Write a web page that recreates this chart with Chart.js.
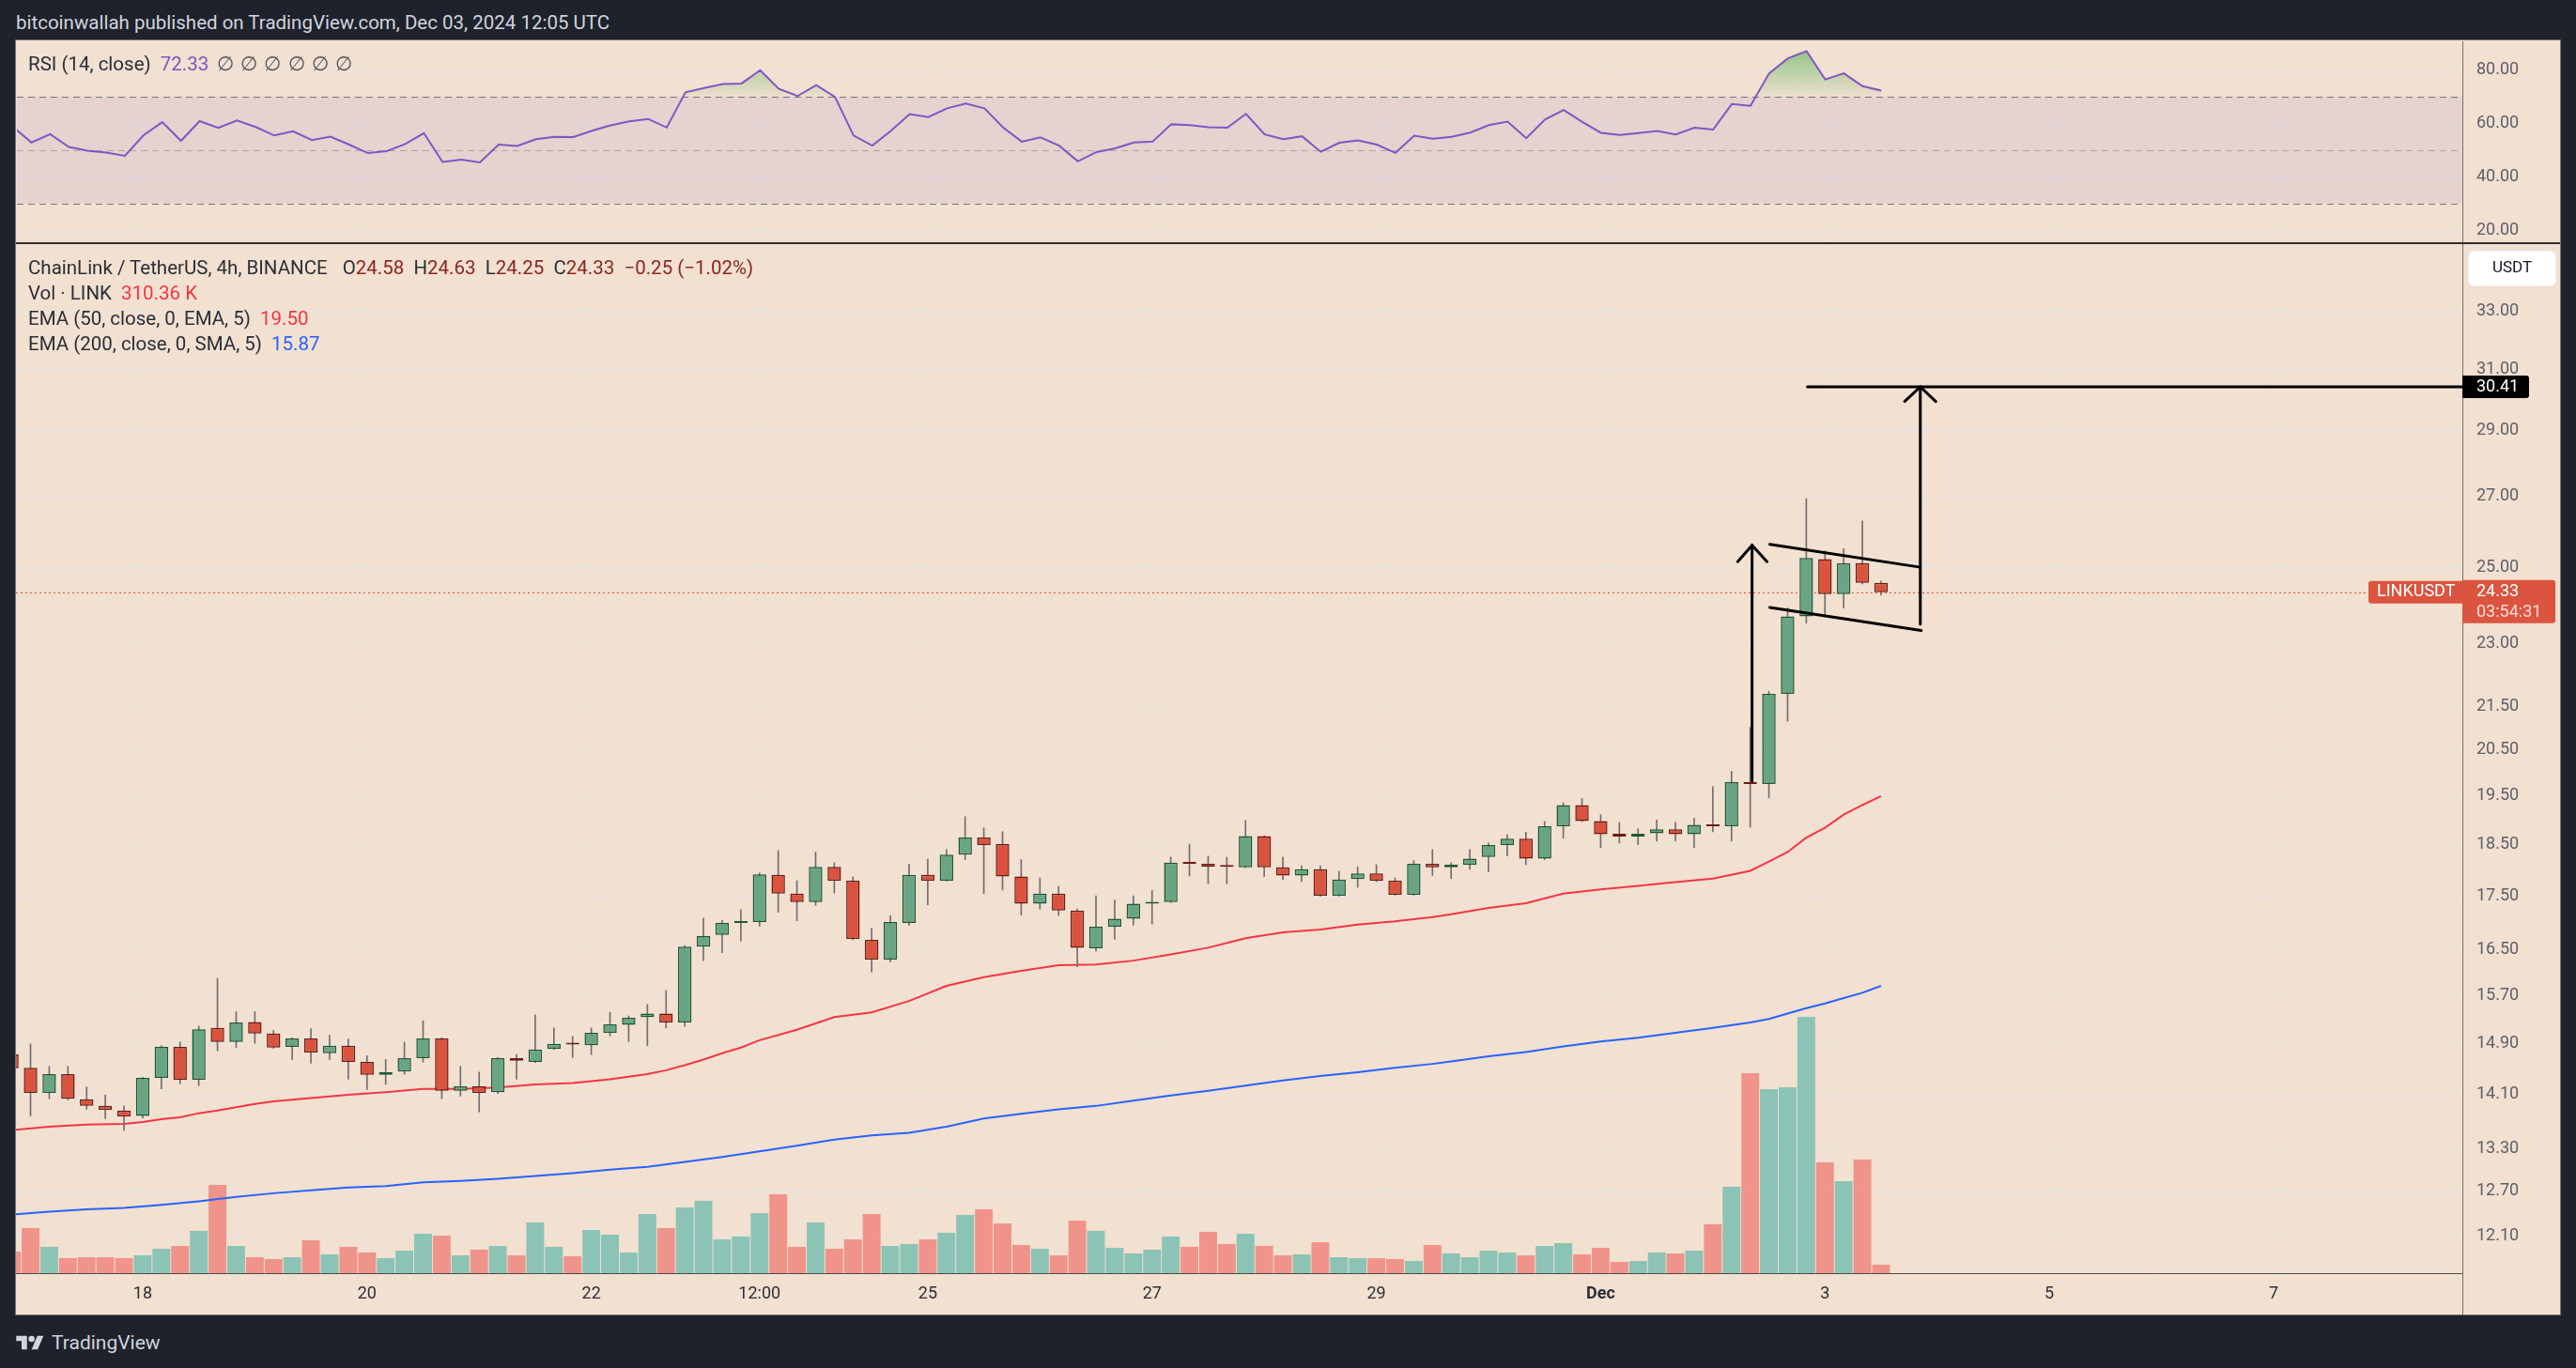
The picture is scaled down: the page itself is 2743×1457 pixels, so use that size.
<!DOCTYPE html>
<html>
<head>
<meta charset="utf-8">
<title>LINKUSDT 4h</title>
<script src="https://cdn.jsdelivr.net/npm/chart.js@4.4.1/dist/chart.umd.min.js"></script>
<style>
  html, body { margin: 0; padding: 0; }
  body { width: 2743px; height: 1457px; background: #1e222d; position: relative; overflow: hidden;
         font-family: Roboto, "Liberation Sans", sans-serif; }
  #header { position: absolute; left: 17px; top: 12px; font-size: 20.5px; color: #d1d4dc; white-space: nowrap; }
  #frame { position: absolute; left: 16px; top: 42px; width: 2709px; height: 1357px; background: #f2e0d0;
           border: 1px solid #77716c; }
  canvas { position: absolute; left: 17px; }
  #rsiChart { top: 43px; }
  #mainChart { top: 259px; }
  #divider { position: absolute; left: 17px; top: 258px; width: 2709px; height: 2px; background: #2e2e2e; }
  #axisFoot { position: absolute; left: 2622px; top: 1356px; width: 1px; height: 44px; background: #6f6f6f; }
  .legend { position: absolute; left: 30px; font-size: 20.5px; color: #2a2e39; white-space: nowrap; }
  .legend div { height: 27px; line-height: 27px; }
  .gap { display: inline-block; width: 16px; }
  #logo { position: absolute; left: 16px; top: 1418px; display: flex; align-items: center; color: #d1d4dc; font-size: 21px; }
  #logo svg { margin-right: 7px; }
</style>
</head>
<body>
<div id="header">bitcoinwallah published on TradingView.com, Dec 03, 2024 12:05 UTC</div>
<div id="frame"></div>
<canvas id="rsiChart" width="2709" height="216"></canvas>
<canvas id="mainChart" width="2709" height="1141"></canvas>
<div id="divider"></div>
<div id="axisFoot"></div>
<div class="legend" id="rsiLegend" style="top:56px"></div>
<div class="legend" id="mainLegend" style="top:272px"></div>
<div id="logo">
  <svg width="32" height="18" viewBox="0 0 36 22"><path d="M14 20H7V9H0V2h14v18zM28 20h-8l7.5-18h8L28 20z" fill="#d1d4dc"/><circle cx="20" cy="6" r="4" fill="#d1d4dc"/></svg>
  <span>TradingView</span>
</div>
<script>
// 4h candles, index 0 = Nov 17 00:00 UTC; first candle is one bar earlier
const candleStart = -1;

const open = [14.73,14.52,14.13,14.42,14.03,13.93,13.86,13.78,14.36,14.85,
  14.33,15.16,14.93,15.26,15.07,14.85,14.99,14.75,14.87,14.61,
  14.41,14.46,14.67,14.99,14.16,14.23,14.14,14.67,14.61,14.82,
  14.90,14.88,15.08,15.21,15.34,15.40,15.25,16.56,16.77,16.99,
  17.01,17.90,17.54,17.38,18.06,17.79,16.68,16.33,16.99,17.90,
  17.79,18.30,18.64,18.51,17.87,17.35,17.54,17.22,16.53,16.92,
  17.07,17.35,17.38,18.14,18.12,18.07,18.05,18.67,18.05,17.89,
  18.01,17.50,17.82,17.93,17.79,17.52,18.12,18.05,18.10,18.25,
  18.49,18.62,18.22,18.87,19.31,18.98,18.72,18.66,18.73,18.81,
  18.71,18.90,18.87,19.80,19.76,21.79,23.70,25.22,24.28,25.11,
  24.58];
const high = [14.80,14.90,14.54,14.54,14.22,14.10,13.93,14.37,14.87,14.93,
  15.19,16.00,15.43,15.43,15.12,15.00,15.15,15.04,14.98,14.71,
  14.65,14.93,15.28,15.00,14.54,14.45,14.68,14.73,15.38,15.16,
  15.02,15.16,15.42,15.36,15.55,15.79,16.58,17.08,17.04,17.24,
  17.94,18.38,17.79,18.35,18.14,17.86,16.89,17.13,18.11,18.21,
  18.40,19.07,18.84,18.76,18.20,17.84,17.68,17.25,17.50,17.42,
  17.50,17.60,18.25,18.51,18.27,18.25,18.99,18.68,18.25,18.08,
  18.08,17.97,18.06,18.10,17.84,18.18,18.40,18.14,18.40,18.53,
  18.70,18.75,18.97,19.36,19.45,19.11,18.95,18.82,19.00,18.95,
  19.04,19.70,20.03,21.01,21.85,23.92,26.93,25.45,25.51,26.29,
  24.63];
const low = [14.45,13.78,14.04,14.02,13.88,13.74,13.56,13.75,14.19,14.27,
  14.24,14.79,14.84,14.91,14.83,14.65,14.59,14.65,14.34,14.18,
  14.26,14.42,14.61,14.04,14.08,13.84,14.12,14.34,14.60,14.81,
  14.68,14.73,15.03,14.94,14.87,15.16,15.19,16.31,16.45,16.66,
  16.93,17.19,17.03,17.32,17.55,16.68,16.11,16.29,16.95,17.33,
  17.78,18.20,17.54,17.61,17.14,17.25,17.13,16.20,16.48,16.69,
  16.95,16.97,17.37,17.88,17.73,17.73,18.04,17.87,17.81,17.77,
  17.49,17.49,17.66,17.77,17.51,17.51,17.89,17.83,18.01,17.96,
  18.27,18.10,18.20,18.63,18.97,18.44,18.53,18.50,18.57,18.57,
  18.44,18.76,18.57,18.85,19.46,21.15,23.53,23.70,23.92,24.55,
  24.25];
const close = [14.51,14.13,14.42,14.04,13.93,13.87,13.77,14.36,14.85,14.33,
  15.14,14.93,15.25,15.07,14.84,14.99,14.76,14.87,14.61,14.41,
  14.45,14.67,14.99,14.16,14.23,14.13,14.67,14.63,14.81,14.90,
  14.89,15.08,15.22,15.33,15.40,15.25,16.56,16.75,16.99,17.02,
  17.91,17.54,17.38,18.06,17.79,16.70,16.33,17.01,17.90,17.79,
  18.30,18.64,18.49,17.87,17.35,17.54,17.22,16.54,16.92,17.07,
  17.35,17.38,18.14,18.12,18.06,18.06,18.67,18.05,17.89,18.01,
  17.50,17.81,17.93,17.79,17.52,18.12,18.05,18.10,18.22,18.49,
  18.62,18.22,18.87,19.31,18.98,18.71,18.66,18.72,18.81,18.71,
  18.90,18.87,19.80,19.76,21.79,23.70,25.25,24.28,25.11,24.58,
  24.33];
// volume in thousands of LINK
const volume = [794,1656,966,552,587,587,552,656,897,1001,
  1553,3243,1001,587,518,587,1208,690,966,759,
  552,828,1449,1380,656,863,1001,656,1863,966,
  621,1587,1415,759,2174,1656,2415,2657,1242,1346,
  2208,2898,966,1863,897,1242,2174,1001,1070,1242,
  1484,2139,2346,1829,1035,897,656,1932,1553,932,
  725,863,1346,966,1518,1070,1449,1001,656,690,
  1139,587,552,552,518,449,1035,725,587,828,
  759,656,1001,1104,690,932,414,449,759,725,
  828,1794,3174,7349,6762,6831,9419,4071,3381,4175,
  310.36];
const rsi = [58.8,52.9,56.0,51.2,49.8,49.1,47.9,55.6,60.5,53.5,
  60.9,58.4,61.1,58.7,55.5,57.1,53.8,55.1,52.1,48.9,
  49.6,52.3,56.4,45.6,46.5,45.4,52.1,51.6,54.1,55.0,
  54.9,57.3,59.3,60.8,61.7,58.5,71.7,73.3,74.8,75.0,
  80.0,73.0,70.3,74.4,70.0,55.5,51.7,57.3,63.5,62.4,
  65.7,67.5,65.7,58.5,53.2,54.8,51.7,45.8,49.3,50.7,
  52.9,53.2,59.7,59.4,58.6,58.4,63.6,55.9,54.1,55.2,
  49.4,52.8,53.7,52.1,49.0,55.4,54.3,55.0,56.6,59.4,
  60.7,54.5,61.5,65.1,60.6,56.5,55.7,56.4,57.2,55.9,
  58.4,57.7,67.3,66.6,78.8,84.4,87.1,76.5,78.8,74.0,
  72.33];

// moving averages at these candle indices
const ema50At = [-1,1,3,5,6,7,8,9,10,11,12,13,15,17,19,21,23,25,27,29,31,33,34,35,36,37,38,39,41,43,
  45,47,49,51,53,55,57,59,61,63,65,67,69,71,73,75,76,78,80,82,84,86,88,90,92,93,94,95,96,97,98,99];
const ema50 = [13.57,13.62,13.65,13.66,13.69,13.73,13.76,13.82,13.86,13.91,13.96,14.00,14.05,14.10,14.14,14.19,14.19,14.21,14.26,14.28,
  14.34,14.42,14.48,14.56,14.65,14.75,14.84,14.96,15.13,15.34,15.42,15.61,15.87,16.02,16.13,16.23,16.24,16.31,16.42,16.54,
  16.71,16.82,16.87,16.96,17.02,17.10,17.15,17.27,17.36,17.54,17.62,17.69,17.76,17.83,17.98,18.16,18.35,18.64,18.84,19.11,
  19.31,19.50];
const ema200At = [-1,1,3,5,7,9,11,13,15,17,19,21,23,25,27,29,31,33,35,37,39,41,43,45,47,49,51,53,55,57,
  59,61,63,65,67,69,71,73,75,76,78,80,82,84,86,88,90,92,93,94,95,96,97,98,99];
const ema200 = [12.38,12.42,12.45,12.47,12.51,12.56,12.62,12.67,12.71,12.75,12.77,12.82,12.84,12.87,12.91,12.95,13.00,13.04,13.11,13.18,
  13.26,13.34,13.43,13.49,13.53,13.62,13.74,13.81,13.88,13.93,14.01,14.09,14.16,14.24,14.32,14.39,14.45,14.52,14.58,14.62,
  14.70,14.77,14.86,14.94,15.00,15.08,15.16,15.25,15.31,15.40,15.49,15.57,15.66,15.75,15.87];

// axis labels
const dayTicks = [6, 18, 30, 39, 48, 60, 72, 84, 96, 108, 120];
const dayLabels = ['18', '20', '22', '12:00', '25', '27', '29', 'Dec', '3', '5', '7'];
const priceTicks = [12.1, 12.7, 13.3, 14.1, 14.9, 15.7, 16.5, 17.5, 18.5, 19.5, 20.5, 21.5, 23, 25, 27, 29, 31, 33];
const rsiTicks = [20, 40, 60, 80];
const rsiLevels = [70, 50, 30];

// drawings: [candle index, price]
const targetPrice = 30.41;
const rallyArrow = [[92.1, 19.82], [92.1, 25.6]];
const rallyHead = [[91.33, 25.15], [92.1, 25.6], [92.9, 25.15]];
const flagTop = [[93.05, 25.63], [101.1, 25.0]];
const flagBottom = [[93.05, 23.93], [101.15, 23.34]];
const targetArrow = [[101.1, 23.5], [101.1, 30.41]];
const targetHead = [[100.26, 29.93], [101.1, 30.41], [101.93, 29.93]];
const targetLine = [[95.06, 30.41], [132, 30.41]];
const countdown = '03:54:31';

const idx = open.map((_, k) => candleStart + k);
const up = close.map((c, k) => c >= open[k]);
const last = close.length - 1;

const gridColor = 'rgba(228,230,236,0.8)';
const tickColor = '#5d606b';
const viewStart = -0.78, viewEnd = 130.1;

Chart.defaults.font.family = 'Roboto, "Liberation Sans", sans-serif';
Chart.defaults.animation = false;

// legends
document.getElementById('rsiLegend').innerHTML =
  'RSI (14, close)&nbsp; <span style="color:#7e57c2">' + rsi[last].toFixed(2) + '</span>' +
  '<span style="color:#50535e;margin-left:9px;letter-spacing:1px">∅ ∅ ∅ ∅ ∅ ∅</span>';
const chg = close[last] - close[last - 1];
const red = '#8b2620';
document.getElementById('mainLegend').innerHTML =
  '<div>ChainLink / TetherUS, 4h, BINANCE<span class="gap"></span>' +
  'O<span style="color:' + red + '">' + open[last].toFixed(2) + '</span>&nbsp; ' +
  'H<span style="color:' + red + '">' + high[last].toFixed(2) + '</span>&nbsp; ' +
  'L<span style="color:' + red + '">' + low[last].toFixed(2) + '</span>&nbsp; ' +
  'C<span style="color:' + red + '">' + close[last].toFixed(2) + '</span>&nbsp; ' +
  '<span style="color:' + red + '">' + (chg < 0 ? '−' : '+') + Math.abs(chg).toFixed(2) +
  ' (' + (chg < 0 ? '−' : '+') + Math.abs(chg / close[last - 1] * 100).toFixed(2) + '%)</span></div>' +
  '<div>Vol · LINK&nbsp; <span style="color:#f23645">' + volume[last].toFixed(2) + ' K</span></div>' +
  '<div>EMA (50, close, 0, EMA, 5)&nbsp; <span style="color:#f23645">' + ema50[ema50.length - 1].toFixed(2) + '</span></div>' +
  '<div>EMA (200, close, 0, SMA, 5)&nbsp; <span style="color:#2962ff">' + ema200[ema200.length - 1].toFixed(2) + '</span></div>';

const xAxis = (showLabels) => ({
  type: 'linear', min: viewStart, max: viewEnd, offset: false,
  grid: { color: gridColor, drawTicks: false, offset: false },
  border: showLabels ? { color: '#4d4d4d', width: 1 } : { display: false },
  afterBuildTicks: s => { s.ticks = dayTicks.map(v => ({ value: v })); },
  afterFit: s => { s.height = showLabels ? 44 : 0; s.paddingLeft = 0; s.paddingRight = 0; },
  ticks: {
    display: showLabels, autoSkip: false, maxRotation: 0, padding: 12, color: '#2a2e39',
    font: c => ({ size: 18, weight: (c.tick && dayLabels[dayTicks.indexOf(c.tick.value)] === 'Dec') ? 'bold' : 'normal' }),
    callback: v => dayLabels[dayTicks.indexOf(v)]
  }
});

const yFit = s => { s.width = 104; s.paddingTop = 0; s.paddingBottom = 0; };

// ---- RSI pane ----
const rsiBands = {
  id: 'rsiBands',
  beforeDatasetsDraw(chart) {
    const { ctx, chartArea: a, scales: { y } } = chart;
    ctx.save();
    ctx.fillStyle = 'rgba(126,87,194,0.1)';
    const t = y.getPixelForValue(rsiLevels[0]), b = y.getPixelForValue(rsiLevels[2]);
    ctx.fillRect(a.left, t, a.width, b - t);
    ctx.lineWidth = 1;
    ctx.setLineDash([7, 5]);
    rsiLevels.forEach((lv, k) => {
      ctx.strokeStyle = k === 1 ? 'rgba(120,123,134,0.5)' : 'rgba(110,112,124,0.95)';
      const py = Math.round(y.getPixelForValue(lv)) + 0.5;
      ctx.beginPath(); ctx.moveTo(a.left, py); ctx.lineTo(a.right, py); ctx.stroke();
    });
    ctx.restore();
  }
};

const rsiChart = new Chart(document.getElementById('rsiChart'), {
  type: 'line',
  data: {
    datasets: [{
      data: idx.map((x, k) => ({ x, y: rsi[k] })),
      borderColor: '#7e57c2', borderWidth: 2, pointRadius: 0, tension: 0,
      fill: { target: { value: 70 }, above: 'rgba(76,175,80,0.35)', below: 'rgba(0,0,0,0)' }
    }]
  },
  options: {
    responsive: false, events: [], layout: { padding: 0 },
    plugins: { legend: { display: false }, tooltip: { enabled: false } },
    scales: {
      x: xAxis(false),
      y: {
        position: 'right', min: 15.5, max: 90.8,
        grid: { color: gridColor, drawTicks: false },
        border: { color: '#6f6f6f' },
        afterBuildTicks: s => { s.ticks = rsiTicks.map(v => ({ value: v })); },
        afterFit: yFit,
        ticks: { color: tickColor, padding: 15, font: { size: 18 }, callback: v => v.toFixed(2) }
      }
    }
  },
  plugins: [rsiBands]
});
{
  const ys = rsiChart.scales.y;
  const g = rsiChart.ctx.createLinearGradient(0, ys.getPixelForValue(88), 0, ys.getPixelForValue(70));
  g.addColorStop(0, 'rgba(76,175,80,0.6)');
  g.addColorStop(1, 'rgba(76,175,80,0.03)');
  rsiChart.data.datasets[0].fill.above = g;
  rsiChart.update();
}

// ---- price pane ----
const priceTags = {
  id: 'priceTags',
  beforeDatasetsDraw(chart) {
    const { ctx, chartArea: a, scales: { y } } = chart;
    const py = Math.round(y.getPixelForValue(close[last])) + 0.5;
    ctx.save();
    ctx.strokeStyle = '#d9533f'; ctx.lineWidth = 1; ctx.setLineDash([2, 3]);
    ctx.beginPath(); ctx.moveTo(a.left, py); ctx.lineTo(a.right, py); ctx.stroke();
    ctx.restore();
  },
  afterDraw(chart) {
    const { ctx, chartArea: a, scales: { y } } = chart;
    ctx.save();
    ctx.textBaseline = 'middle';
    // currency box
    ctx.fillStyle = '#ffffff'; ctx.strokeStyle = '#e3e3e3';
    ctx.beginPath(); ctx.roundRect(a.right + 6, 8, 94, 38, 6); ctx.fill(); ctx.stroke();
    ctx.fillStyle = '#131722'; ctx.textAlign = 'center';
    ctx.font = '17px Roboto, "Liberation Sans", sans-serif';
    ctx.fillText('USDT', a.right + 53, 27);
    ctx.font = '18px Roboto, "Liberation Sans", sans-serif';
    ctx.textAlign = 'left';
    // target tag
    const ty = y.getPixelForValue(targetPrice);
    ctx.fillStyle = '#000';
    ctx.beginPath(); ctx.roundRect(a.right, ty - 12, 71, 24, [0, 3, 3, 0]); ctx.fill();
    ctx.fillStyle = '#fff';
    ctx.fillText(targetPrice.toFixed(2), a.right + 15, ty + 1);
    // last price tag
    const py = y.getPixelForValue(close[last]);
    ctx.fillStyle = '#db5440';
    ctx.beginPath(); ctx.roundRect(a.right, py - 13, 99, 46, [0, 3, 3, 0]); ctx.fill();
    ctx.beginPath(); ctx.roundRect(a.right - 100, py - 12, 100, 24, [3, 0, 0, 3]); ctx.fill();
    ctx.fillStyle = '#fff';
    ctx.fillText(close[last].toFixed(2), a.right + 15, py);
    ctx.fillText('LINKUSDT', a.right - 91, py);
    ctx.fillStyle = 'rgba(255,255,255,0.8)';
    ctx.fillText(countdown, a.right + 15, py + 22);
    ctx.restore();
  }
};

const drawings = [rallyArrow, rallyHead, flagTop, flagBottom, targetArrow, targetHead, targetLine];

new Chart(document.getElementById('mainChart'), {
  type: 'bar',
  data: {
    datasets: [
      {
        label: 'Volume', yAxisID: 'vol',
        data: idx.map((x, k) => ({ x, y: volume[k] })),
        backgroundColor: up.map(u => u ? 'rgba(38,166,154,0.5)' : 'rgba(239,83,80,0.55)'),
        barPercentage: 0.95, categoryPercentage: 1, grouped: false, order: 10
      },
      {
        type: 'line', label: 'EMA 200',
        data: ema200At.map((x, k) => ({ x, y: ema200[k] })),
        borderColor: '#2962ff', borderWidth: 2, pointRadius: 0, order: 8
      },
      {
        type: 'line', label: 'EMA 50',
        data: ema50At.map((x, k) => ({ x, y: ema50[k] })),
        borderColor: '#f23645', borderWidth: 2, pointRadius: 0, order: 7
      },
      {
        label: 'Wick',
        data: idx.map((x, k) => ({ x, y: [low[k], high[k]] })),
        backgroundColor: '#6f6f73', barThickness: 1, grouped: false, order: 5
      },
      {
        label: 'Body',
        data: idx.map((x, k) => ({ x, y: [open[k], close[k]] })),
        backgroundColor: up.map(u => u ? '#6aa583' : '#d9533f'),
        borderColor: up.map(u => u ? '#1d5736' : '#6b1c15'),
        borderWidth: 1.5, borderSkipped: false, minBarLength: 2,
        barPercentage: 0.72, categoryPercentage: 1, grouped: false, order: 4
      },
      ...drawings.map(pts => ({
        type: 'line', label: 'drawing',
        data: pts.map(([x, y]) => ({ x, y })),
        borderColor: '#000', borderWidth: 3, pointRadius: 0, borderCapStyle: 'round', order: 0
      }))
    ]
  },
  options: {
    responsive: false, events: [], layout: { padding: 0 },
    plugins: { legend: { display: false }, tooltip: { enabled: false } },
    scales: {
      x: xAxis(true),
      y: {
        type: 'logarithmic', position: 'right', min: 11.617, max: 35.54,
        grid: { color: gridColor, drawTicks: false },
        border: { color: '#6f6f6f' },
        afterBuildTicks: s => { s.ticks = priceTicks.map(v => ({ value: v })); },
        afterFit: yFit,
        ticks: { color: tickColor, padding: 15, font: { size: 18 }, autoSkip: false, callback: v => v.toFixed(2) }
      },
      vol: { type: 'linear', display: false, min: 0, max: Math.max(...volume) * 4.02 }
    }
  },
  plugins: [priceTags]
});
</script>
</body>
</html>
